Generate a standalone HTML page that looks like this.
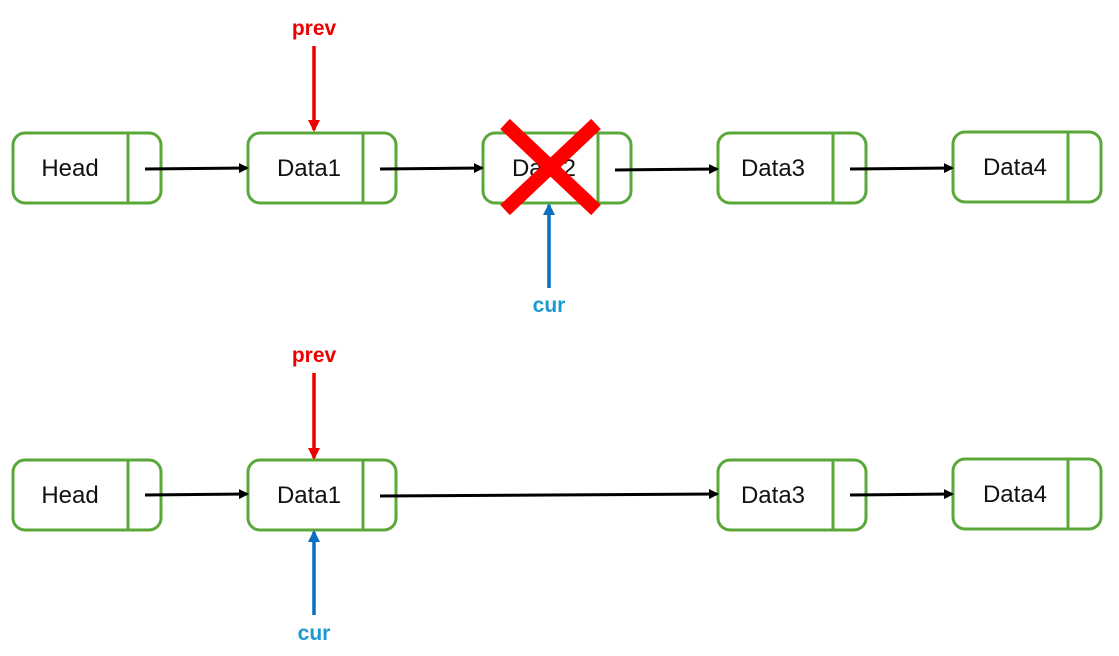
<!DOCTYPE html>
<html><head><style>body{margin:0;background:#fff}</style></head><body>
<svg width="1119" height="651" xmlns="http://www.w3.org/2000/svg" font-family="Liberation Sans, sans-serif">
<defs>
<marker id="k" markerWidth="10" markerHeight="10" refX="8" refY="5" orient="auto" markerUnits="userSpaceOnUse"><path d="M0,0 L10,5 L0,10z" fill="#000"/></marker>
<marker id="r" markerWidth="12" markerHeight="12" refX="10" refY="6" orient="auto" markerUnits="userSpaceOnUse"><path d="M0,0 L12,6 L0,12z" fill="#e00"/></marker>
<marker id="b" markerWidth="12" markerHeight="12" refX="10" refY="6" orient="auto" markerUnits="userSpaceOnUse"><path d="M0,0 L12,6 L0,12z" fill="#0b6fbf"/></marker>
</defs>
<g fill="none" stroke="#5aa83a" stroke-width="3">
<rect x="13" y="133" width="148" height="70" rx="12"/><line x1="128" y1="133" x2="128" y2="203"/>
<rect x="248" y="133" width="148" height="70" rx="12"/><line x1="363" y1="133" x2="363" y2="203"/>
<rect x="483" y="133" width="148" height="70" rx="12"/><line x1="598" y1="133" x2="598" y2="203"/>
<rect x="718" y="133" width="148" height="70" rx="12"/><line x1="833" y1="133" x2="833" y2="203"/>
<rect x="953" y="132" width="148" height="70" rx="12"/><line x1="1068" y1="132" x2="1068" y2="202"/>
<rect x="13" y="460" width="148" height="70" rx="12"/><line x1="128" y1="460" x2="128" y2="530"/>
<rect x="248" y="460" width="148" height="70" rx="12"/><line x1="363" y1="460" x2="363" y2="530"/>
<rect x="718" y="460" width="148" height="70" rx="12"/><line x1="833" y1="460" x2="833" y2="530"/>
<rect x="953" y="459" width="148" height="70" rx="12"/><line x1="1068" y1="459" x2="1068" y2="529"/>
</g>
<g font-size="24" fill="#111" text-anchor="middle">
<text x="70" y="176">Head</text><text x="309" y="176">Data1</text><text x="544" y="176">Data2</text><text x="773" y="176">Data3</text><text x="1015" y="175">Data4</text>
<text x="70" y="503">Head</text><text x="309" y="503">Data1</text><text x="773" y="503">Data3</text><text x="1015" y="502">Data4</text>
</g>
<g stroke="#000" stroke-width="3" marker-end="url(#k)">
<line x1="145" y1="169" x2="247" y2="168"/><line x1="380" y1="169" x2="482" y2="168"/>
<line x1="615" y1="170" x2="717" y2="169"/><line x1="850" y1="169" x2="952" y2="168"/>
<line x1="145" y1="495" x2="247" y2="494"/><line x1="380" y1="496" x2="717" y2="494"/>
<line x1="850" y1="495" x2="952" y2="494"/>
</g>
<g stroke="#f00" stroke-width="14"><line x1="505" y1="124" x2="596" y2="210"/><line x1="596" y1="124" x2="505" y2="210"/></g>
<g stroke-width="3.5">
<line x1="314" y1="46" x2="314" y2="130" stroke="#e00" marker-end="url(#r)"/>
<line x1="549" y1="288" x2="549" y2="205" stroke="#0b6fbf" marker-end="url(#b)"/>
<line x1="314" y1="373" x2="314" y2="458" stroke="#e00" marker-end="url(#r)"/>
<line x1="314" y1="615" x2="314" y2="532" stroke="#0b6fbf" marker-end="url(#b)"/>
</g>
<g font-size="21" font-weight="bold" text-anchor="middle">
<text x="314" y="35" fill="#e00">prev</text><text x="549" y="312" fill="#1a9ad0">cur</text>
<text x="314" y="362" fill="#e00">prev</text><text x="314" y="640" fill="#1a9ad0">cur</text>
</g>
</svg>
</body></html>
